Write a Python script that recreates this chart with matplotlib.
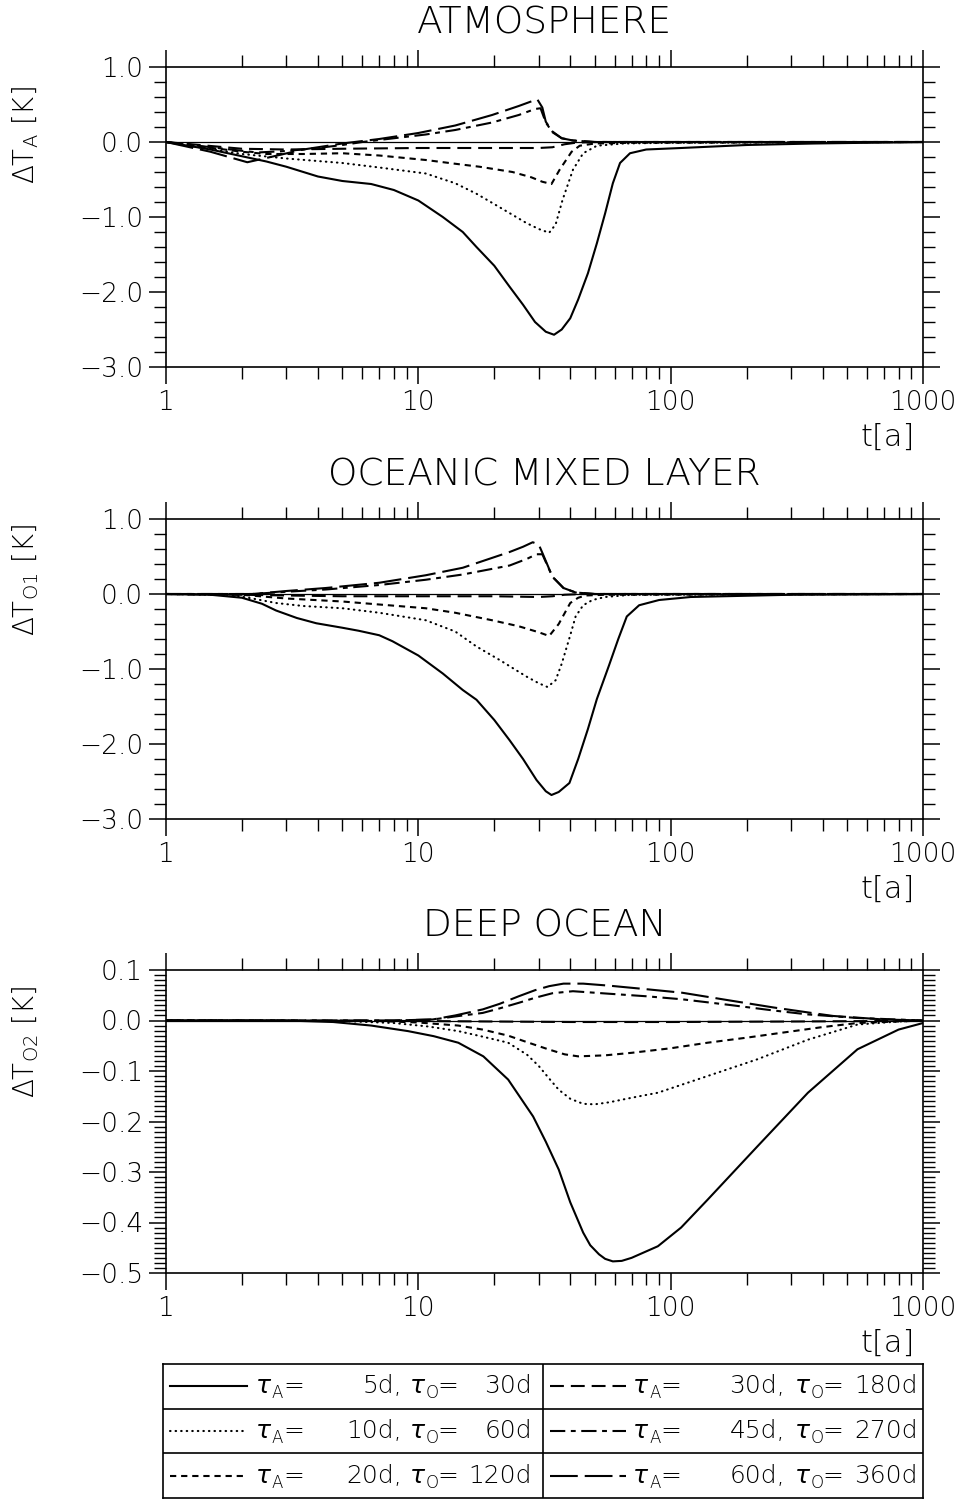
import matplotlib
matplotlib.use("Agg")
import matplotlib.pyplot as plt
import matplotlib.ticker as mticker

plt.rcParams["font.family"] = "DejaVu Sans"
plt.rcParams["lines.scale_dashes"] = False
plt.rcParams["axes.unicode_minus"] = True

# time constants of the six experiments
tau_a = [5, 10, 20, 30, 45, 60]
tau_o = [30, 60, 120, 180, 270, 360]

# --- atmosphere ---
atm_t_5 = [1, 1.5, 2, 2.5, 3, 4, 5, 6.5, 8, 10, 12.5, 15, 17, 20, 23, 26, 29, 32, 34.5, 37,
           40, 43, 47, 51, 55, 59, 63, 69, 80, 110, 200, 370, 1000]
atm_v_5 = [0, -0.1, -0.19, -0.26, -0.33, -0.46, -0.52, -0.56, -0.64, -0.78, -1.0, -1.2, -1.4,
           -1.65, -1.93, -2.17, -2.4, -2.53, -2.57, -2.5, -2.35, -2.1, -1.75, -1.35, -0.95,
           -0.55, -0.28, -0.15, -0.1, -0.08, -0.04, -0.02, 0.0]
atm_t_10 = [1, 2, 3, 5, 7, 10.7, 14, 17, 21, 26.8, 30, 33, 35, 37.3, 41, 45, 51, 65, 100, 1000]
atm_v_10 = [0, -0.16, -0.22, -0.28, -0.34, -0.42, -0.55, -0.69, -0.87, -1.08, -1.16, -1.21,
            -1.1, -0.77, -0.37, -0.15, -0.05, -0.02, -0.01, 0]
atm_t_20 = [1, 2, 2.5, 3.5, 5, 7, 10.7, 14, 17.5, 23.6, 28, 31, 33.7, 36.3, 40.5, 43.6, 50, 70, 1000]
atm_v_20 = [0, -0.13, -0.16, -0.16, -0.15, -0.18, -0.24, -0.29, -0.33, -0.4, -0.47, -0.53,
            -0.56, -0.37, -0.13, -0.05, -0.02, -0.01, 0]
atm_t_30 = [1, 2, 3, 5, 10, 20, 30, 34, 38, 42, 50, 1000]
atm_v_30 = [0, -0.09, -0.1, -0.09, -0.08, -0.08, -0.08, -0.07, -0.03, -0.01, 0, 0]
atm_t_45 = [1, 1.6, 2.3, 3, 4, 5, 6, 8, 10.7, 14, 19.6, 25, 29, 30.5, 32, 34, 37, 41, 50, 1000]
atm_v_45 = [0, -0.08, -0.14, -0.12, -0.08, -0.04, 0.0, 0.05, 0.1, 0.16, 0.26, 0.36, 0.44,
            0.45, 0.26, 0.13, 0.05, 0.02, 0, 0]
atm_t_60 = [1, 1.5, 2.1, 2.6, 3.5, 5, 7, 10, 14, 19.6, 25, 29.6, 31, 32, 34, 37, 41, 50, 1000]
atm_v_60 = [0, -0.13, -0.27, -0.2, -0.1, -0.02, 0.04, 0.12, 0.22, 0.36, 0.48, 0.57, 0.46,
            0.27, 0.14, 0.05, 0.02, 0, 0]

# --- oceanic mixed layer ---
oml_t_5 = [1, 1.5, 2, 2.4, 2.73, 3.3, 3.94, 5, 5.8, 7, 7.9, 10, 12.5, 15, 17, 20, 23, 26,
           29.4, 32, 33.7, 36, 39.7, 43, 47, 51, 57, 62, 67, 75, 90, 120, 300, 1000]
oml_v_5 = [0, -0.01, -0.05, -0.13, -0.22, -0.32, -0.39, -0.45, -0.49, -0.55, -0.63, -0.82,
           -1.06, -1.28, -1.41, -1.68, -1.95, -2.2, -2.48, -2.63, -2.68, -2.64, -2.52, -2.2,
           -1.8, -1.4, -0.95, -0.6, -0.3, -0.15, -0.08, -0.04, -0.01, 0]
oml_t_10 = [1, 1.8, 2.2, 2.73, 3.5, 5, 7, 10.7, 14, 17, 21, 26.8, 30, 32.5, 35, 37, 40, 42,
            45, 49, 55, 70, 1000]
oml_v_10 = [0, -0.01, -0.06, -0.12, -0.16, -0.19, -0.25, -0.35, -0.5, -0.7, -0.88, -1.1,
            -1.19, -1.24, -1.15, -0.93, -0.55, -0.3, -0.15, -0.08, -0.04, -0.01, 0]
oml_t_20 = [1, 2, 3, 5, 7, 10.7, 14, 19.6, 25, 30, 33, 36, 40, 43, 46, 55, 1000]
oml_v_20 = [0, -0.01, -0.06, -0.1, -0.14, -0.19, -0.25, -0.35, -0.43, -0.51, -0.56, -0.4,
            -0.12, -0.05, -0.02, -0.01, 0]
oml_t_30 = [1, 2, 3, 5, 10, 20, 30, 34, 38, 45, 1000]
oml_v_30 = [0, -0.01, -0.02, -0.03, -0.03, -0.03, -0.04, -0.03, -0.01, 0, 0]
oml_t_45 = [1, 2.2, 3, 4.3, 7, 10.7, 15, 23, 27, 29.4, 31, 34, 37.6, 42, 50, 1000]
oml_v_45 = [0, 0, 0.03, 0.06, 0.12, 0.19, 0.26, 0.38, 0.47, 0.53, 0.53, 0.23, 0.08, 0.02, 0.0, 0]
oml_t_60 = [1, 2.2, 3, 4.3, 7, 10.7, 15, 23, 26, 28.4, 30, 31, 34, 37.6, 42, 50, 1000]
oml_v_60 = [0, 0, 0.04, 0.08, 0.15, 0.25, 0.35, 0.56, 0.63, 0.69, 0.66, 0.55, 0.23, 0.08,
            0.02, 0.0, 0]

# --- deep ocean ---
deep_t_5 = [1, 3, 4.6, 6.5, 9.1, 11.5, 14.4, 18.1, 22.7, 28.5, 32, 36, 40, 45, 48, 52, 55,
            59, 64, 70, 89, 110, 140, 220, 350, 550, 800, 1000]
deep_v_5 = [0, 0, -0.003, -0.01, -0.021, -0.031, -0.044, -0.071, -0.117, -0.19, -0.24,
            -0.295, -0.36, -0.42, -0.445, -0.463, -0.472, -0.477, -0.476, -0.47, -0.447,
            -0.41, -0.355, -0.25, -0.143, -0.057, -0.018, -0.005]
deep_t_10 = [1, 5, 8, 11, 14.4, 18, 22.7, 27, 30, 33, 36, 40, 45, 50, 57, 70, 89, 140, 220,
             350, 550, 800, 1000]
deep_v_10 = [0, -0.001, -0.005, -0.012, -0.021, -0.032, -0.044, -0.068, -0.09, -0.115,
             -0.137, -0.155, -0.165, -0.166, -0.162, -0.153, -0.143, -0.11, -0.077, -0.038,
             -0.008, -0.002, 0]
deep_t_20 = [1, 7, 10, 14.4, 18, 22.7, 27, 32.7, 38, 43, 55, 70, 100, 140, 200, 278, 400, 550, 1000]
deep_v_20 = [0, -0.001, -0.004, -0.01, -0.018, -0.03, -0.043, -0.057, -0.067, -0.071, -0.069,
             -0.064, -0.055, -0.044, -0.034, -0.024, -0.013, -0.005, 0]
deep_t_30 = [1, 10, 20, 40, 100, 300, 700, 1000]
deep_v_30 = [0, -0.001, -0.002, -0.003, -0.003, -0.002, -0.001, 0]
deep_t_45 = [1, 8, 11.4, 14, 18, 21, 25, 29, 34, 41, 57, 80, 111, 170, 254, 350, 550, 1000]
deep_v_45 = [0, 0, 0.002, 0.008, 0.015, 0.024, 0.035, 0.045, 0.054, 0.058, 0.053, 0.048,
             0.042, 0.031, 0.02, 0.012, 0.005, 0]
deep_t_60 = [1, 8, 11.4, 14, 18, 21, 25, 29, 33, 37.6, 45, 57, 80, 111, 170, 254, 350, 440, 700, 1000]
deep_v_60 = [0, 0.0, 0.002, 0.01, 0.022, 0.033, 0.048, 0.06, 0.068, 0.073, 0.073, 0.069,
             0.062, 0.055, 0.04, 0.026, 0.016, 0.009, 0.002, 0]

# line style per experiment (dash lengths in points)
styles = [
    dict(ls="-"),
    dict(ls=(0, (0.4, 3.6)), dash_capstyle="round"),
    dict(ls=(0, (4.5, 3.5))),
    dict(ls=(0, (10, 5))),
    dict(ls=(0, (11, 4, 3.5, 4))),
    dict(ls=(0, (20, 5))),
]

panels = [
    dict(title="ATMOSPHERE", sub="A",
         series=[(atm_t_5, atm_v_5), (atm_t_10, atm_v_10), (atm_t_20, atm_v_20),
                 (atm_t_30, atm_v_30), (atm_t_45, atm_v_45), (atm_t_60, atm_v_60)],
         ylim=(-3.0, 1.0), major=1.0, minor=0.2, top=67, bottom=367, lab_y=0.773),
    dict(title="OCEANIC MIXED LAYER", sub="O1",
         series=[(oml_t_5, oml_v_5), (oml_t_10, oml_v_10), (oml_t_20, oml_v_20),
                 (oml_t_30, oml_v_30), (oml_t_45, oml_v_45), (oml_t_60, oml_v_60)],
         ylim=(-3.0, 1.0), major=1.0, minor=0.2, top=519, bottom=819, lab_y=0.797),
    dict(title="DEEP OCEAN", sub="O2",
         series=[(deep_t_5, deep_v_5), (deep_t_10, deep_v_10), (deep_t_20, deep_v_20),
                 (deep_t_30, deep_v_30), (deep_t_45, deep_v_45), (deep_t_60, deep_v_60)],
         ylim=(-0.5, 0.1), major=0.1, minor=0.01, top=970, bottom=1273, lab_y=0.762),
]

W, H = 968, 1500
fig = plt.figure(figsize=(W / 100, H / 100), dpi=100)
fig.set_facecolor("w")


def yfmt(v, _):
    return f"{round(v, 1) + 0.0:.1f}".replace("-", "\u2212")


for p in panels:
    ax = fig.add_axes([166 / W, 1 - p["bottom"] / H, 757 / W, (p["bottom"] - p["top"]) / H])
    ax.axhline(0, color="k", lw=0.9)
    for (t, v), st in zip(p["series"], styles):
        ax.plot(t, v, color="k", lw=1.5, **st)

    ax.set_xscale("log")
    ax.set_xlim(1, 1000)
    ax.set_ylim(*p["ylim"])
    ax.xaxis.set_major_locator(mticker.FixedLocator([1, 10, 100, 1000]))
    ax.xaxis.set_major_formatter(mticker.FuncFormatter(lambda x, _: f"{x:g}"))
    ax.xaxis.set_minor_locator(mticker.LogLocator(base=10, subs=range(2, 10)))
    ax.xaxis.set_minor_formatter(mticker.NullFormatter())
    ax.yaxis.set_major_locator(mticker.MultipleLocator(p["major"]))
    ax.yaxis.set_minor_locator(mticker.MultipleLocator(p["minor"]))
    ax.yaxis.set_major_formatter(mticker.FuncFormatter(yfmt))

    ax.tick_params(which="major", direction="out", length=12.5, width=1.1,
                   top=True, right=True, labelsize=19, pad=4)
    ax.tick_params(which="minor", direction="out", length=8.5, width=1.0,
                   top=True, right=True)
    for lab in ax.get_xticklabels() + ax.get_yticklabels():
        lab.set_fontweight("light")
    for s in ax.spines.values():
        s.set_linewidth(1.2)

    h = p["bottom"] - p["top"]
    ax.text(0.5, 1 + 44 / h, p["title"], transform=ax.transAxes, ha="center",
            va="center", fontsize=27, fontweight="light")
    ax.set_ylabel("\u0394T$_{\\mathregular{%s}}$ [K]" % p["sub"], fontsize=20,
                  fontweight="light")
    ax.yaxis.set_label_coords(-0.165, p["lab_y"])
    ax.text(0.989, -70 / h, "t[a]", transform=ax.transAxes, ha="right",
            va="center", fontsize=22, fontweight="light")

# legend table
lax = fig.add_axes([163 / W, 1 - 1498 / H, 760 / W, 134 / H])
lax.set_xlim(0, 760)
lax.set_ylim(134, 0)
lax.set_xticks([])
lax.set_yticks([])
for s in lax.spines.values():
    s.set_linewidth(1.2)
lax.axhline(44.7, color="k", lw=1.2)
lax.axhline(89.3, color="k", lw=1.2)
lax.axvline(380, color="k", lw=1.2)


def tau_label(x, y, sub):
    lax.text(x, y, "\u03c4", style="italic", ha="left", va="center", fontsize=18)
    lax.text(x + 16, y + 7, sub, ha="left", va="center", fontsize=12, fontweight="light")
    lax.text(x + 27, y, "=", ha="left", va="center", fontsize=18, fontweight="light")


row_y = [22, 67, 112]
cols = [
    dict(x0=7, x1=84, ta=93, va=239, to=247, vo=369),
    dict(x0=387, x1=463, ta=470, va=622, to=632, vo=755),
]
for i, (a, o) in enumerate(zip(tau_a, tau_o)):
    c = cols[i // 3]
    y = row_y[i % 3]
    lax.plot([c["x0"], c["x1"]], [y, y], color="k", lw=1.5, **styles[i])
    tau_label(c["ta"], y, "A")
    lax.text(c["va"], y, f"{a}d,", ha="right", va="center", fontsize=18, fontweight="light")
    tau_label(c["to"], y, "O")
    lax.text(c["vo"], y, f"{o}d", ha="right", va="center", fontsize=18, fontweight="light")

plt.savefig("out.png", dpi=100)
